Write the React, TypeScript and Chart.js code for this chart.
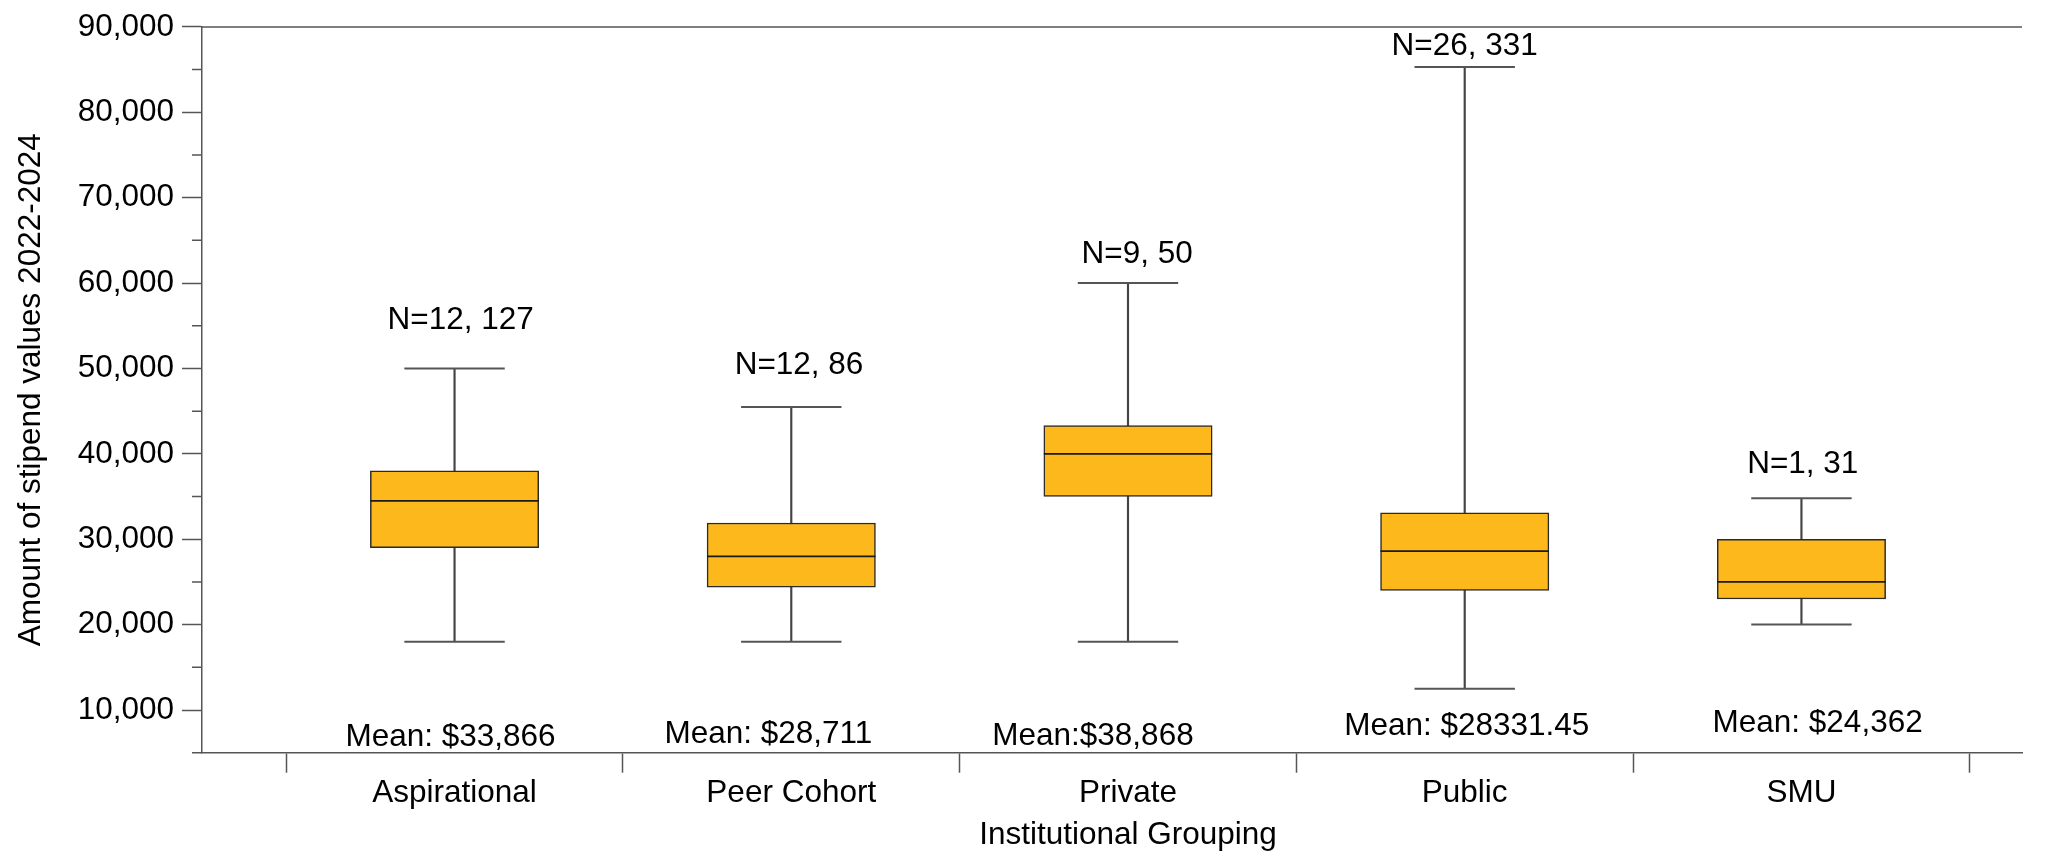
import React, { useEffect, useRef } from 'react';
import { Chart, registerables } from 'chart.js';

Chart.register(...registerables);

// ---- data ----
const categories = ['Aspirational', 'Peer Cohort', 'Private', 'Public', 'SMU'];
const whiskerLow = [18000, 18000, 18000, 12500, 20000];
const q1 = [29000, 24400, 35000, 24000, 23000];
const median = [34500, 28000, 40000, 28600, 25000];
const q3 = [38000, 31900, 43300, 33100, 30000];
const whiskerHigh = [50000, 45500, 60000, 85300, 34800];

const nLabels = ['N=12, 127', 'N=12, 86', 'N=9, 50', 'N=26, 331', 'N=1, 31'];
const meanLabels = ['Mean: $33,866', 'Mean: $28,711', 'Mean:$38,868', 'Mean: $28331.45', 'Mean: $24,362'];
// label anchors in data units (x = category position, y = baseline value)
const nLabelX = [1.018, 2.023, 3.027, 4.0, 5.004];
const nLabelY = [54600, 49400, 62350, 86720, 37710];
const meanLabelX = [0.988, 1.932, 2.896, 4.006, 5.048];
const meanLabelY = [5780, 6160, 5900, 7130, 7370];

const yTicks = [10000, 20000, 30000, 40000, 50000, 60000, 70000, 80000, 90000];
const yMinorTicks = [5000, 15000, 25000, 35000, 45000, 55000, 65000, 75000, 85000];

const xTitle = 'Institutional Grouping';
const yTitle = 'Amount of stipend values 2022-2024';

const FONT = '"Liberation Sans", Arial, Helvetica, sans-serif';
const FONT_SIZE = 31.5;
const AXIS_COLOR = '#555555';
const BOX_FILL = '#FDB81B';
const BOX_BORDER = '#2a2a2a';

const annotationPlugin = {
  id: 'boxAnnotations',
  afterDatasetsDraw(chart: any) {
    const { ctx, chartArea } = chart;
    const xs = chart.scales.x;
    const ys = chart.scales.y;
    ctx.save();
    // minor ticks on y axis
    ctx.strokeStyle = AXIS_COLOR;
    ctx.lineWidth = 1.5;
    ctx.beginPath();
    yMinorTicks.forEach((v) => {
      const py = ys.getPixelForValue(v);
      ctx.moveTo(chartArea.left - 10, py);
      ctx.lineTo(chartArea.left, py);
    });
    // top frame line
    ctx.moveTo(chartArea.left, chartArea.top);
    ctx.lineTo(chartArea.right, chartArea.top);
    ctx.stroke();

    ctx.fillStyle = '#000';
    ctx.font = `${FONT_SIZE}px ${FONT}`;
    ctx.textAlign = 'center';
    ctx.textBaseline = 'alphabetic';
    nLabels.forEach((t, i) => {
      ctx.fillText(t, xs.getPixelForValue(nLabelX[i]), ys.getPixelForValue(nLabelY[i]));
    });
    meanLabels.forEach((t, i) => {
      ctx.fillText(t, xs.getPixelForValue(meanLabelX[i]), ys.getPixelForValue(meanLabelY[i]));
    });
    // x-axis title, centred on the category range
    ctx.fillText(xTitle, xs.getPixelForValue((1 + categories.length) / 2), xs.bottom - 15);
    ctx.restore();
  },
};

export default function App() {
  const canvasRef = useRef<HTMLCanvasElement | null>(null);

  useEffect(() => {
    if (!canvasRef.current) return;
    Chart.defaults.font.family = FONT;
    Chart.defaults.font.size = FONT_SIZE;
    Chart.defaults.color = '#000';

    const pos = categories.map((_, i) => i + 1);
    const xTickValues: number[] = [];
    categories.forEach((_, i) => {
      xTickValues.push(i + 0.5, i + 1);
    });
    xTickValues.push(categories.length + 0.5);

    const chart = new Chart(canvasRef.current, {
      type: 'bar',
      data: {
        datasets: [
          {
            type: 'bar',
            label: 'whiskers',
            data: pos.map((x, i) => ({ x, y: [whiskerLow[i], whiskerHigh[i]] })) as any,
            backgroundColor: '#444444',
            borderWidth: 0,
            barThickness: 1.5,
            grouped: false,
            order: 3,
          } as any,
          {
            type: 'bar',
            label: 'box',
            data: pos.map((x, i) => ({ x, y: [q1[i], q3[i]] })) as any,
            backgroundColor: BOX_FILL,
            borderColor: BOX_BORDER,
            borderWidth: 1.5,
            borderSkipped: false,
            barPercentage: 1,
            categoryPercentage: 1,
            grouped: false,
            order: 2,
          } as any,
          {
            type: 'line',
            label: 'median',
            data: pos.map((x, i) => ({ x, y: median[i] })),
            showLine: false,
            pointStyle: 'line',
            pointRadius: 84.2,
            pointBorderColor: '#1a1a1a',
            pointBorderWidth: 1.8,
            order: 1,
          } as any,
          {
            type: 'line',
            label: 'capHigh',
            data: pos.map((x, i) => ({ x, y: whiskerHigh[i] })),
            showLine: false,
            pointStyle: 'line',
            pointRadius: 50.2,
            pointBorderColor: '#555555',
            pointBorderWidth: 2,
            order: 1,
          } as any,
          {
            type: 'line',
            label: 'capLow',
            data: pos.map((x, i) => ({ x, y: whiskerLow[i] })),
            showLine: false,
            pointStyle: 'line',
            pointRadius: 50.2,
            pointBorderColor: '#555555',
            pointBorderWidth: 2,
            order: 1,
          } as any,
        ],
      },
      options: {
        animation: false,
        responsive: true,
        maintainAspectRatio: false,
        events: [],
        layout: { autoPadding: false, padding: { left: 0, top: 20, right: 26, bottom: 0 } },
        plugins: {
          legend: { display: false },
          tooltip: { enabled: false },
        },
        scales: {
          x: {
            type: 'linear',
            min: 0.25,
            max: 5.655,
            offset: false,
            bounds: 'data',
            afterBuildTicks: (s: any) => {
              s.ticks = xTickValues.map((v) => ({ value: v }));
            },
            afterFit: (s: any) => {
              s.height = 106.3;
            },
            ticks: {
              autoSkip: false,
              maxRotation: 0,
              padding: 2,
              color: '#000',
              font: { size: FONT_SIZE, family: FONT },
              callback: (v: any) => (Number.isInteger(v) ? categories[v - 1] : ''),
            },
            grid: {
              offset: false,
              drawOnChartArea: false,
              tickLength: 20,
              tickWidth: 1.5,
              tickColor: (c: any) =>
                c.tick && Number.isInteger(c.tick.value) ? 'rgba(0,0,0,0)' : AXIS_COLOR,
            },
            border: { display: true, color: AXIS_COLOR, width: 1.5 },
            title: { display: false },
          },
          y: {
            type: 'linear',
            min: 5000,
            max: 90000,
            afterBuildTicks: (s: any) => {
              s.ticks = yTicks.map((v) => ({ value: v }));
            },
            afterFit: (s: any) => {
              s.width = 202;
            },
            ticks: {
              padding: 8,
              color: '#000',
              font: { size: FONT_SIZE, family: FONT },
              callback: (v: any) => Number(v).toLocaleString('en-US'),
            },
            grid: {
              drawOnChartArea: false,
              tickLength: 20,
              tickWidth: 1.5,
              tickColor: AXIS_COLOR,
            },
            border: { display: true, color: AXIS_COLOR, width: 1.5 },
            title: {
              display: true,
              text: yTitle,
              color: '#000',
              font: { size: FONT_SIZE, family: FONT },
              padding: { top: 12, bottom: 0 },
            },
          },
        },
      } as any,
      plugins: [annotationPlugin],
    });
    return () => chart.destroy();
  }, []);

  return (
    <div style={{ position: 'fixed', left: 0, top: 0, width: 2048, height: 859, background: '#fff' }}>
      <canvas ref={canvasRef} />
    </div>
  );
}
